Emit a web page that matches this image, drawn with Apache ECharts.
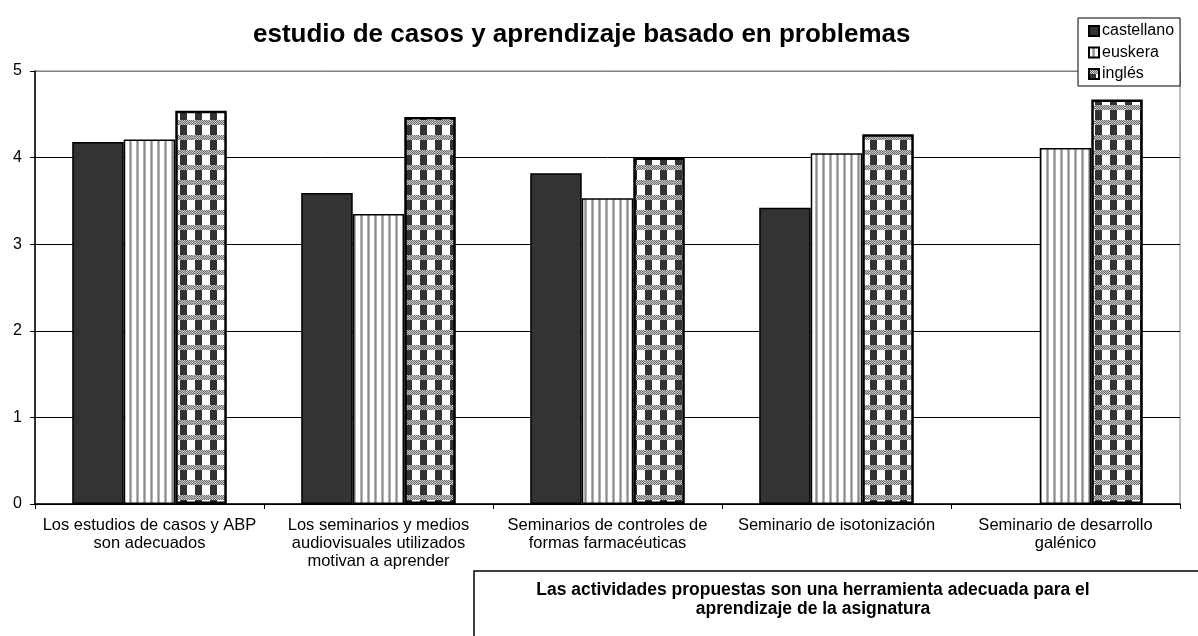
<!DOCTYPE html>
<html>
<head>
<meta charset="utf-8">
<script src="https://cdn.jsdelivr.net/npm/echarts@6/dist/echarts.min.js"></script>
<style>
  html, body { margin: 0; padding: 0; background: #fff; }
  #chartBox { width: 1198px; height: 636px; }
</style>
</head>
<body>
<div id="chartBox"></div>
<script>
var categories = [
    'Los estudios de casos y ABP\nson adecuados',
    'Los seminarios y medios\naudiovisuales utilizados\nmotivan a aprender',
    'Seminarios de controles de\nformas farmacéuticas',
    'Seminario de isotonización',
    'Seminario de desarrollo\ngalénico'
];
var castellano = [4.18, 3.59, 3.82, 3.42, null];
var euskera = [4.21, 3.35, 3.53, 4.05, 4.11];
var ingles = [4.54, 4.47, 4.0, 4.27, 4.67];
var yTicks = [0, 1, 2, 3, 4, 5];

var font = 'Liberation Sans, Arial, sans-serif';

// striped fill for euskera
function stripes() {
    var c = document.createElement('canvas');
    c.width = 7; c.height = 7;
    var g = c.getContext('2d');
    g.fillStyle = '#fff';
    g.fillRect(0, 0, 7, 7);
    g.fillStyle = '#b4b4b4';
    g.fillRect(3, 0, 3, 7);
    g.fillStyle = '#8c8c8c';
    g.fillRect(4, 0, 1, 7);
    return c;
}

// checker/plaid fill for ingles
function plaid() {
    var c = document.createElement('canvas');
    c.width = 15; c.height = 15;
    var g = c.getContext('2d');
    g.fillStyle = '#fff';
    g.fillRect(0, 0, 15, 15);
    g.fillStyle = '#333';
    g.fillRect(0, 5, 7, 10);
    for (var y = 0; y < 5; y++) {
        for (var x = 0; x < 15; x++) {
            g.fillStyle = (x + y) % 2 ? '#6e6e6e' : '#c8c8c8';
            g.fillRect(x, y, 1, 1);
        }
    }
    return c;
}

var myChart = echarts.init(document.getElementById('chartBox'));
myChart.setOption({
    backgroundColor: '#fff',
    animation: false,
    title: {
        text: 'estudio de casos y aprendizaje basado en problemas',
        left: 248,
        top: 17,
        textStyle: { fontFamily: font, fontSize: 26, fontWeight: 'bold', color: '#000' }
    },
    legend: {
        orient: 'vertical',
        left: 1078,
        top: 18,
        padding: [5, 6, 4, 10],
        itemWidth: 10,
        itemHeight: 10,
        itemGap: 5.5,
        borderColor: '#000',
        borderWidth: 1,
        backgroundColor: '#fff',
        icon: 'rect',
        textStyle: { fontFamily: font, fontSize: 16, color: '#000', padding: [0, 0, 0, -2] },
        data: ['castellano', 'euskera', 'inglés']
    },
    grid: {
        left: 35,
        right: 18,
        top: 71,
        bottom: 132,
        show: true,
        borderColor: '#808080',
        borderWidth: 1
    },
    xAxis: {
        type: 'category',
        data: categories,
        axisLine: { lineStyle: { color: '#000', width: 1.5 } },
        axisTick: { show: true, length: 5, lineStyle: { color: '#000' } },
        axisLabel: {
            interval: 0,
            margin: 12,
            color: '#000',
            fontFamily: font,
            fontSize: 16.5,
            lineHeight: 18
        }
    },
    yAxis: {
        type: 'value',
        min: yTicks[0],
        max: yTicks[yTicks.length - 1],
        interval: 1,
        axisLine: { show: true, lineStyle: { color: '#000', width: 1.5 } },
        axisTick: { show: true, length: 5, lineStyle: { color: '#000' } },
        axisLabel: { color: '#000', fontFamily: font, fontSize: 16, margin: 13 },
        splitLine: {
            lineStyle: { color: ['#000', '#000', '#000', '#000', '#000', '#808080'], width: 1 }
        }
    },
    series: [
        {
            name: 'castellano',
            type: 'bar',
            data: castellano,
            barGap: '0%',
            barCategoryGap: '32.5%',
            itemStyle: { color: '#333333', borderColor: '#000', borderWidth: 1.5 }
        }, {
            name: 'euskera',
            type: 'bar',
            data: euskera,
            itemStyle: {
                color: { image: stripes(), repeat: 'repeat' },
                borderColor: '#000',
                borderWidth: 1.5
            }
        }, {
            name: 'inglés',
            type: 'bar',
            data: ingles,
            itemStyle: {
                color: { image: plaid(), repeat: 'repeat' },
                borderColor: '#000',
                borderWidth: 2.5
            }
        }
    ],
    graphic: [
        {
            type: 'rect',
            shape: { x: 474, y: 571, width: 760, height: 100 },
            style: { fill: '#fff', stroke: '#000', lineWidth: 1.5 }
        }, {
            type: 'text',
            x: 813,
            y: 581,
            style: {
                text: 'Las actividades propuestas son una herramienta adecuada para el\naprendizaje de la asignatura',
                fontFamily: font,
                fontSize: 17.5,
                fontWeight: 'bold',
                lineHeight: 19,
                fill: '#000',
                align: 'center',
                verticalAlign: 'top'
            }
        }
    ]
});
</script>
</body>
</html>
